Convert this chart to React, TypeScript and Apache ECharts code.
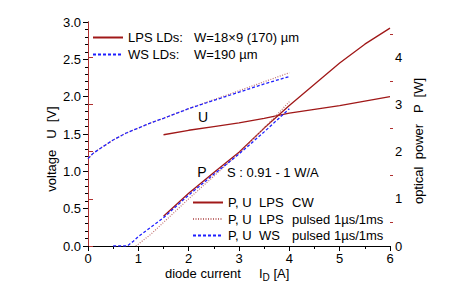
import React, { useEffect, useRef } from "react";
import * as echarts from "echarts";

// LPS CW (solid)
const xCW = [1.5, 2, 2.5, 3, 3.5, 4, 4.5, 5, 5.5, 6];
const uCW = [1.49, 1.55, 1.6, 1.65, 1.71, 1.78, 1.83, 1.88, 1.94, 2.0];
const pCW = [0.63, 1.12, 1.56, 1.99, 2.5, 2.98, 3.43, 3.88, 4.28, 4.62];

// Pulsed voltage (LPS dotted, WS dashed)
const xUPulsed = [0, 0.1, 0.25, 0.5, 0.75, 1, 1.25, 1.5, 2, 2.5, 3, 3.5, 4];
const uWS = [1.17, 1.24, 1.31, 1.42, 1.51, 1.58, 1.65, 1.71, 1.84, 1.95, 2.06, 2.17, 2.27];
const uLPSp = [1.17, 1.24, 1.31, 1.42, 1.51, 1.58, 1.65, 1.71, 1.84, 1.96, 2.08, 2.2, 2.32];

// Pulsed power
const xPWS = [0.5, 0.78, 0.9, 1, 1.25, 1.5, 2, 2.5, 3, 3.5, 4];
const pWS = [0, 0, 0.1, 0.2, 0.4, 0.6, 1.08, 1.52, 1.95, 2.42, 2.91];
const xPLPS = [0.95, 1, 1.25, 1.5, 2, 2.5, 3, 3.5, 4];
const pLPS = [0, 0.04, 0.25, 0.5, 1.0, 1.48, 1.97, 2.5, 3.06];

const xTicks = [0, 1, 2, 3, 4, 5, 6];
const pTicks = [0, 1, 2, 3, 4];
const pMinorTicks = [0.5, 1.5, 2.5, 3.5, 4.5];

const DARK_RED = "#a01818";
const AXIS_RED = "#b03030";
const DOT_RED = "#c07070";
const BLUE = "#1f1fff";
const FONT = "Arial, 'Liberation Sans', sans-serif";

const pairs = (xs: number[], ys: number[]) => xs.map((x, i) => [x, ys[i]]);

const NAME_CW = "cw";
const NAME_LPSP = "lpsp";
const NAME_WSP = "wsp";
const NAME_LPS = "lpsTop";
const NAME_WS = "wsTop";

const legendText: Record<string, string> = {
  [NAME_LPS]: "{a|LPS LDs:}{b|W=18×9 (170) µm}",
  [NAME_WS]: "{a|WS LDs:}{b|W=190 µm}",
  [NAME_CW]: "{c|P, U}{d|LPS}{e|CW}",
  [NAME_LPSP]: "{c|P, U}{d|LPS}{e|pulsed 1µs/1ms}",
  [NAME_WSP]: "{c|P, U}{d|WS}{e|pulsed 1µs/1ms}",
};

export default function App() {
  const ref = useRef<HTMLDivElement>(null);
  useEffect(() => {
    if (!ref.current) return;
    const chart = echarts.init(ref.current, null, { renderer: "svg" });
    const solid = { color: DARK_RED, width: 1.3, type: "solid" as const };
    const dotted = { color: DOT_RED, width: 1.2, type: [1, 1.5] as any };
    const dashed = { color: BLUE, width: 1.3, type: [3, 2] as any };
    const base = { type: "line" as const, symbol: "none", showSymbol: false, silent: true };
    const richTop = {
      a: { width: 66, fontSize: 13, fontFamily: FONT, color: "#000" },
      b: { fontSize: 13, fontFamily: FONT, color: "#000" },
    };
    const richBot = {
      c: { width: 31, fontSize: 13, fontFamily: FONT, color: "#000" },
      d: { width: 33, fontSize: 13, fontFamily: FONT, color: "#000" },
      e: { fontSize: 13, fontFamily: FONT, color: "#000" },
    };
    chart.setOption({
      animation: false,
      backgroundColor: "#fff",
      textStyle: { fontFamily: FONT },
      grid: { left: 88, right: 81, top: 22, bottom: 54 },
      legend: [
        {
          data: [NAME_LPS, NAME_WS],
          left: 92,
          top: 31,
          padding: 0,
          orient: "vertical",
          itemWidth: 30,
          itemHeight: 14,
          itemGap: 4,
          selectedMode: false,
          itemStyle: { opacity: 0 },
          formatter: (n: string) => legendText[n],
          textStyle: { rich: richTop },
        },
        {
          data: [NAME_CW, NAME_LPSP, NAME_WSP],
          left: 192,
          top: 196,
          padding: 0,
          orient: "vertical",
          itemWidth: 30,
          itemHeight: 13,
          itemGap: 3.5,
          selectedMode: false,
          itemStyle: { opacity: 0 },
          formatter: (n: string) => legendText[n],
          textStyle: { rich: richBot },
        },
      ],
      xAxis: [
        {
          type: "value",
          min: 0,
          max: 6,
          interval: 1,
          position: "bottom",
          axisLine: { lineStyle: { color: "#000", width: 1 } },
          axisTick: { inside: false, length: 5, lineStyle: { color: "#000" } },
          minorTick: { show: true, splitNumber: 2, length: 3, lineStyle: { color: "#000" } },
          splitLine: { show: false },
          axisLabel: { color: "#000", fontSize: 13, fontFamily: FONT, margin: 6,
            customValues: xTicks },
        },
        {
          type: "value",
          min: 0,
          max: 6,
          interval: 1,
          position: "top",
          axisLine: { lineStyle: { color: "#000", width: 1 } },
          axisTick: { inside: true, length: 4, lineStyle: { color: "#000" } },
          minorTick: { show: true, splitNumber: 2, length: 3, lineStyle: { color: "#000" } },
          splitLine: { show: false },
          axisLabel: { show: false },
        },
      ],
      yAxis: [
        {
          type: "value",
          min: 0,
          max: 3,
          interval: 0.5,
          position: "left",
          axisLine: { show: true, lineStyle: { color: "#000", width: 1 } },
          axisTick: { show: true, inside: false, length: 5, lineStyle: { color: "#000" } },
          minorTick: { show: true, splitNumber: 5, length: 3, lineStyle: { color: "#000" } },
          splitLine: { show: false },
          axisLabel: {
            color: "#000",
            fontSize: 13,
            fontFamily: FONT,
            margin: 7,
            formatter: (v: number) => v.toFixed(1),
          },
        },
        {
          type: "value",
          min: 0,
          max: 4.75,
          position: "right",
          axisLine: { show: true, lineStyle: { color: AXIS_RED, width: 1 } },
          axisTick: { show: true, inside: false, length: 5, customValues: pTicks,
            lineStyle: { color: AXIS_RED } },
          splitLine: { show: false },
          axisLabel: { color: "#000", fontSize: 13, fontFamily: FONT, margin: 5,
            customValues: pTicks },
        },
        {
          type: "value",
          min: 0,
          max: 4.75,
          position: "right",
          axisLine: { show: false },
          axisTick: { show: true, inside: false, length: 3, customValues: pMinorTicks,
            lineStyle: { color: AXIS_RED } },
          splitLine: { show: false },
          axisLabel: { show: false },
        },
      ],
      series: [
        { ...base, name: NAME_LPS, data: [], lineStyle: solid, itemStyle: { color: DARK_RED } },
        { ...base, name: NAME_WS, data: [], lineStyle: dashed, itemStyle: { color: BLUE } },
        { ...base, name: NAME_CW, yAxisIndex: 0, data: pairs(xCW, uCW), lineStyle: solid, itemStyle: { color: DARK_RED } },
        { ...base, name: NAME_CW, yAxisIndex: 1, data: pairs(xCW, pCW), lineStyle: solid, itemStyle: { color: DARK_RED } },
        { ...base, name: NAME_LPSP, yAxisIndex: 0, data: pairs(xUPulsed, uLPSp), lineStyle: dotted, itemStyle: { color: DOT_RED } },
        { ...base, name: NAME_LPSP, yAxisIndex: 1, data: pairs(xPLPS, pLPS), lineStyle: dotted, itemStyle: { color: DOT_RED } },
        { ...base, name: NAME_WSP, yAxisIndex: 0, data: pairs(xUPulsed, uWS), lineStyle: dashed, itemStyle: { color: BLUE } },
        { ...base, name: NAME_WSP, yAxisIndex: 1, data: pairs(xPWS, pWS), lineStyle: dashed, itemStyle: { color: BLUE } },
      ],
      graphic: [
        {
          type: "text",
          x: 51,
          y: 149,
          rotation: Math.PI / 2,
          style: { text: "voltage   U  [V]", fontSize: 13, fontFamily: FONT, fill: "#000",
            align: "center", verticalAlign: "middle" },
        },
        {
          type: "text",
          x: 418,
          y: 141,
          rotation: Math.PI / 2,
          style: { text: "optical  power   P  [W]", fontSize: 13, fontFamily: FONT, fill: "#000",
            align: "center", verticalAlign: "middle" },
        },
        {
          type: "text",
          x: 165,
          y: 273,
          style: {
            text: "{n|diode current     I}{s|D}{n| [A]}",
            rich: {
              n: { fontSize: 13, fontFamily: FONT, fill: "#000", color: "#000" },
              s: { fontSize: 10, fontFamily: FONT, fill: "#000", color: "#000", padding: [8, 0, 0, 0] },
            },
            verticalAlign: "middle",
          },
        },
        {
          type: "text",
          x: 203,
          y: 117,
          style: { text: "U", fontSize: 14, fontFamily: FONT, fill: "#000", align: "center", verticalAlign: "middle" },
        },
        {
          type: "text",
          x: 202,
          y: 172,
          style: { text: "P", fontSize: 14, fontFamily: FONT, fill: "#000", align: "center", verticalAlign: "middle" },
        },
        {
          type: "text",
          x: 227,
          y: 172,
          style: { text: "S : 0.91 - 1 W/A", fontSize: 13, fontFamily: FONT, fill: "#000", verticalAlign: "middle" },
        },
      ],
    });
    return () => chart.dispose();
  }, []);
  return (
    <div
      ref={ref}
      style={{ position: "fixed", left: 0, top: 0, width: 471, height: 300 }}
    />
  );
}
